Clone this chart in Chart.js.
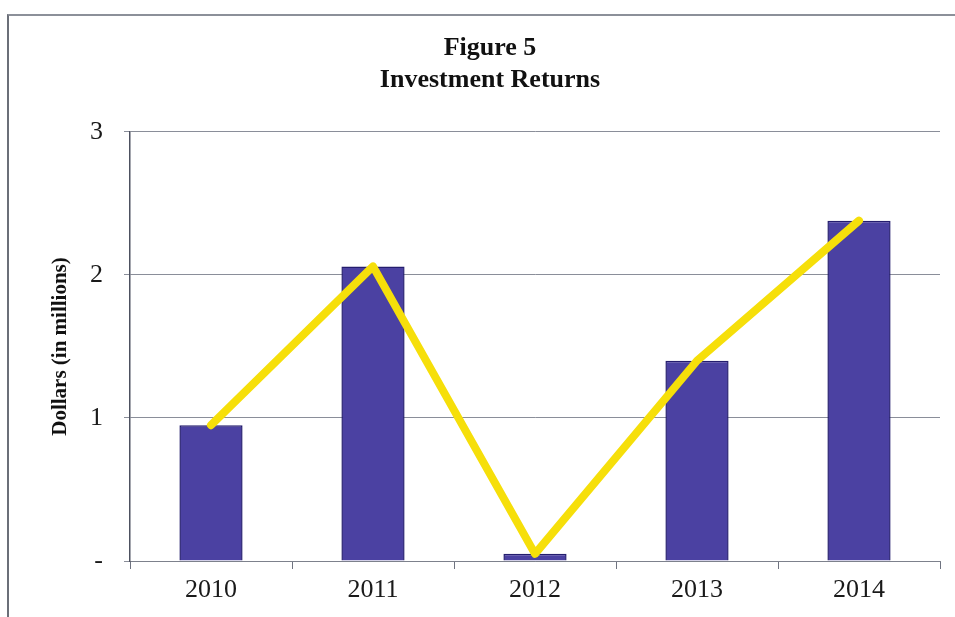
<!DOCTYPE html>
<html>
<head>
<meta charset="utf-8">
<script src="https://cdn.jsdelivr.net/npm/chart.js@4/dist/chart.umd.min.js"></script>
<style>
  html, body { margin: 0; padding: 0; background: #fff; }
  #wrap { position: relative; width: 955px; height: 617px; overflow: hidden; }
  #frame {
    position: absolute; left: 7px; top: 14px; width: 1000px; height: 700px;
    border-left: 2px solid #6b6f78; border-top: 2px solid #8c9099;
  }
  canvas { position: absolute; left: 0; top: 0; }
</style>
</head>
<body>
<div id="wrap">
  <div id="frame"></div>
  <canvas id="returnsChart" width="955" height="617"></canvas>
</div>
<script>
const years = ['2010', '2011', '2012', '2013', '2014'];
const returns = [0.95, 2.06, 0.05, 1.40, 2.38];
const yTicks = [0, 1, 2, 3];

const serif = '"Liberation Serif", "Times New Roman", serif';

const ctx = document.getElementById('returnsChart').getContext('2d');

new Chart(ctx, {
    data: {
        labels: years,
        datasets: [{
            type: 'line',
            label: 'Trend',
            data: returns,
            borderColor: '#f6df0a',
            borderWidth: 8,
            borderCapStyle: 'round',
            borderJoinStyle: 'round',
            pointRadius: 0,
            tension: 0,
            order: 0
        }, {
            type: 'bar',
            label: 'Returns',
            data: returns,
            backgroundColor: '#4b41a2',
            borderColor: '#241d6e',
            borderWidth: 1.5,
            barPercentage: 0.39,
            categoryPercentage: 1,
            order: 1
        }]
    },
    options: {
        responsive: false,
        animation: false,
        layout: { padding: { left: 40, right: 15, top: 0, bottom: 0 } },
        plugins: {
            legend: { display: false },
            tooltip: { enabled: false },
            title: {
                display: true,
                text: ['Figure 5', 'Investment Returns'],
                color: '#111',
                font: { family: serif, size: 26, weight: 'bold', lineHeight: 1.23 },
                padding: { top: 32, bottom: 36 }
            }
        },
        scales: {
            x: {
                offset: true,
                afterFit: scale => { scale.height = 56; },
                grid: {
                    offset: true,
                    drawOnChartArea: false,
                    drawTicks: true,
                    tickLength: 8,
                    color: '#6f7380'
                },
                border: { color: '#7d818c', width: 1 },
                ticks: {
                    color: '#1a1a1a',
                    padding: 6,
                    font: { family: serif, size: 26 }
                }
            },
            y: {
                min: 0,
                max: 3,
                afterBuildTicks: scale => {
                    scale.ticks = yTicks.map(v => ({ value: v }));
                },
                afterFit: scale => { scale.width = 90; },
                grid: {
                    color: '#8a8e99',
                    lineWidth: 1,
                    tickLength: 6
                },
                border: { color: '#4d5160', width: 1.5 },
                ticks: {
                    color: '#1a1a1a',
                    padding: 21,
                    font: { family: serif, size: 26 },
                    callback: v => (v === 0 ? '-' : v)
                },
                title: {
                    display: true,
                    text: 'Dollars (in millions)',
                    color: '#111',
                    font: { family: serif, size: 21, weight: 'bold' },
                    padding: { top: 8, bottom: 0 }
                }
            }
        }
    }
});
</script>
</body>
</html>
